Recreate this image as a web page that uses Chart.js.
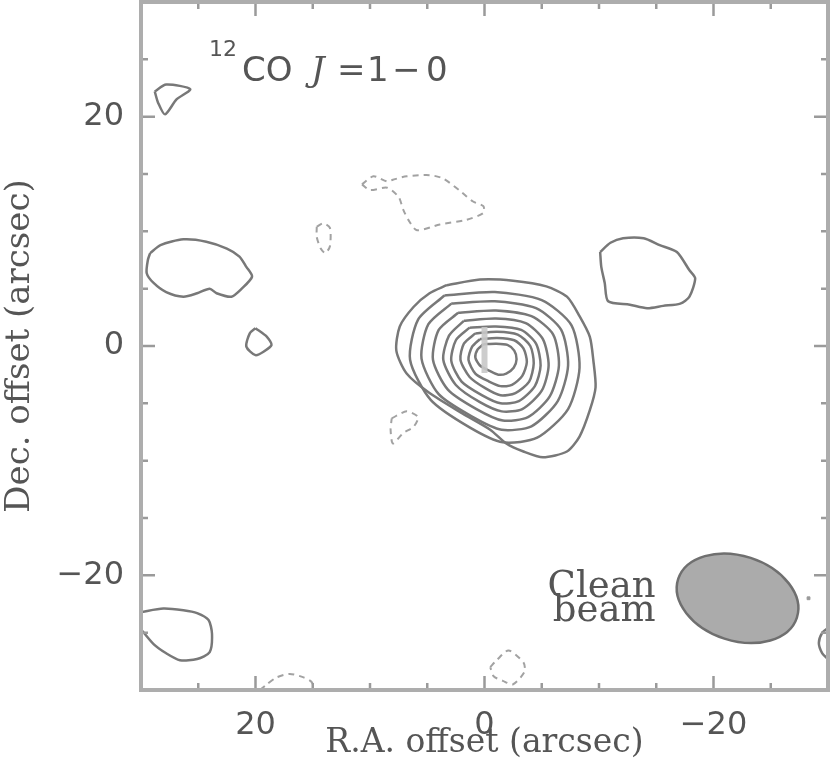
<!DOCTYPE html>
<html lang="en">
  <head>
    <meta charset="UTF-8" />
    <title>12CO J=1-0 map</title>
    <script src="https://cdn.jsdelivr.net/npm/chart.js"></script>
    <style>
      html, body { margin: 0; padding: 0; background: #fff; overflow: hidden; }
      #wrap { width: 830px; height: 777px; }
    </style>
  </head>
  <body>
    <div id="wrap"><canvas id="coMap"></canvas></div>

    <script>
      // tick values (arcsec)
      const labelTicks = [20, 0, -20];
      const minorTicks = [-25, -15, -10, -5, 5, 10, 15, 25];

      // positive contours around the source, [RA offset, Dec offset]
      const c1 = [[3.3,5.3],[0.4,5.8],[-2.5,5.7],[-5.4,5.2],[-7.2,4.3],[-8.3,2.6],[-9.2,0.8],[-9.5,-1.2],[-9.7,-3.6],[-9.2,-5.6],[-8.3,-7.9],[-7.2,-9.2],[-5.1,-9.7],[-3.4,-9.2],[-1.9,-8.5],[-0.5,-7.3],[1.9,-5.9],[4.8,-4.1],[6.8,-2.4],[7.7,-0.4],[7.4,1.7],[6.2,3.4],[4.8,4.6]];
      const c2 = [[3.5,4.4],[-0.9,4.7],[-5.0,4.0],[-7.6,1.8],[-8.3,-1.9],[-7.3,-5.5],[-4.6,-8.0],[-1.6,-8.4],[1.3,-7.1],[4.7,-4.7],[6.5,-1.2],[5.8,2.3]];
      const c3 = [[2.9,3.7],[-0.9,3.9],[-4.5,3.3],[-6.7,1.4],[-7.3,-1.7],[-6.4,-4.8],[-4.1,-7.0],[-1.5,-7.3],[1.0,-6.2],[4.0,-4.2],[5.5,-1.1],[4.9,1.9]];
      const c4 = [[2.3,2.9],[-1.0,3.1],[-4.1,2.6],[-6.0,1.0],[-6.5,-1.7],[-5.7,-4.4],[-3.8,-6.2],[-1.6,-6.5],[0.7,-5.5],[3.2,-3.8],[4.5,-1.2],[4.0,1.4]];
      const c5 = [[1.8,2.2],[-1.0,2.4],[-3.6,2.0],[-5.1,0.6],[-5.6,-1.7],[-5.0,-3.9],[-3.3,-5.5],[-1.5,-5.7],[0.4,-4.9],[2.5,-3.4],[3.6,-1.2],[3.1,0.9]];
      const c6 = [[1.3,1.6],[-1.0,1.7],[-3.2,1.4],[-4.5,0.2],[-4.9,-1.7],[-4.4,-3.5],[-3.0,-4.8],[-1.4,-5.0],[0.2,-4.3],[2.0,-3.1],[2.9,-1.3],[2.5,0.5]];
      const c7 = [[0.8,1.1],[-1.1,1.25],[-2.9,1.0],[-4.0,0.0],[-4.3,-1.5],[-3.9,-3.1],[-2.7,-4.1],[-1.4,-4.3],[-0.1,-3.7],[1.3,-2.7],[2.1,-1.2],[1.8,0.2]];
      const c8 = [[0.4,0.6],[-1.1,0.7],[-2.6,0.5],[-3.4,-0.2],[-3.7,-1.4],[-3.3,-2.6],[-2.4,-3.4],[-1.4,-3.5],[-0.4,-3.1],[0.8,-2.4],[1.4,-1.2],[1.1,-0.1]];
      const c9 = [[0.1,0.15],[-1.0,0.2],[-2.0,0.1],[-2.6,-0.4],[-2.8,-1.15],[-2.55,-1.9],[-1.9,-2.4],[-1.2,-2.5],[-0.5,-2.2],[0.4,-1.7],[0.8,-1.0],[0.6,-0.3]];

      // other positive contours
      const westBlob = [[29.2,8.1],[28.3,8.8],[26.3,9.3],[24.3,9.1],[22.5,8.5],[21.4,7.8],[20.8,6.9],[20.3,6.05],[21.2,5.0],[22.1,4.3],[23.4,4.6],[24.0,5.0],[25.1,4.6],[26.3,4.3],[27.8,4.7],[28.9,5.5],[29.5,6.35],[29.4,7.5]];
      const westSpot = [[20.0,1.55],[19.0,0.8],[18.6,0.1],[19.3,-0.5],[20.0,-0.8],[20.8,-0.05],[20.5,1.1]];
      const eastBlob = [[-10.1,8.2],[-11.0,9.0],[-12.1,9.4],[-13.9,9.4],[-15.3,8.8],[-16.8,8.2],[-17.9,6.6],[-18.4,5.9],[-17.9,4.3],[-17.1,3.7],[-15.6,3.5],[-14.2,3.3],[-12.7,3.6],[-10.8,3.9],[-10.5,5.5],[-10.2,6.9]];
      const nwSpot = [[28.8,22.2],[27.8,22.8],[25.7,22.4],[26.9,21.5],[27.9,20.2],[28.5,21.2]];
      const swEdge = [[30,-23.2],[28.05,-22.9],[26.3,-23.05],[25.1,-23.3],[24.1,-23.9],[23.8,-25.1],[24.0,-26.7],[25.1,-27.3],[26.6,-27.4],[27.8,-26.8],[28.9,-26.0],[30,-24.7]];
      const seEdge = [[-30,-24.6],[-29.5,-25.0],[-29.2,-25.9],[-29.5,-26.8],[-30,-27.3]];

      // negative contours (dashed)
      const negNorth = [[10.7,14.1],[9.7,14.8],[8.5,14.35],[8.0,14.5],[6.8,14.8],[4.8,14.9],[3.6,14.6],[2.1,13.5],[1.0,12.6],[0.1,12.2],[0.1,11.6],[1.6,11.0],[3.9,10.6],[5.9,10.1],[6.65,11.0],[7.1,11.9],[7.5,13.0],[8.5,13.8],[10.0,13.6]];
      const negSmall = [[14.65,10.4],[14.1,10.7],[13.5,10.3],[13.5,8.7],[13.9,8.1],[14.3,8.5],[14.65,9.5]];
      const negSouth = [[8.1,-6.3],[6.8,-5.7],[5.8,-6.2],[6.2,-7.05],[7.1,-7.6],[8.0,-8.5],[8.2,-7.3]];
      const negBottom = [[19.6,-30],[19.0,-29.5],[18.15,-28.9],[17.0,-28.6],[15.8,-28.9],[15.1,-29.3],[14.8,-30]];
      const negDiamond = [[-0.5,-28.0],[-1.07,-27.4],[-2.1,-26.55],[-3.4,-27.6],[-3.5,-28.4],[-2.5,-29.5],[-1.6,-29.2],[-0.8,-28.8]];

      // markers
      const centreMark = [[0, -0.35]];
      const strayDot = [[-28.3, -22.0]];

      // clean beam: centre, FWHM axes (arcsec), position angle (deg)
      const beamCentre = [-22.1, -22.0];
      const beamMajor = 10.9;
      const beamMinor = 7.4;
      const beamPA = 72;

      const solidCol = "#787878";
      const dashCol = "#a2a2a2";
      const textCol = "#555555";

      function contour(pts, closed, neg) {
        return {
          data: closed ? pts.concat([pts[0]]) : pts,
          showLine: true,
          borderColor: neg ? dashCol : solidCol,
          borderWidth: neg ? 2 : 2.5,
          borderDash: neg ? [6, 5] : [],
          pointRadius: 0,
          tension: 0.25,
          order: 1,
        };
      }

      const minus = (v) => String(v).replace("-", "\u2212");

      // inward tick marks, tick labels and the box round the map
      const framePlugin = {
        id: "frame",
        afterDatasetsDraw(chart) {
          const { ctx, chartArea: a, scales } = chart;
          const x = scales.x, y = scales.y;
          ctx.save();
          ctx.strokeStyle = "#9a9a9a";
          ctx.lineWidth = 2.5;
          const ticks = labelTicks.map((v) => [v, 14]).concat(minorTicks.map((v) => [v, 7]));
          ctx.beginPath();
          ticks.forEach(([v, len]) => {
            const px = x.getPixelForValue(v);
            ctx.moveTo(px, a.bottom); ctx.lineTo(px, a.bottom - len);
            ctx.moveTo(px, a.top); ctx.lineTo(px, a.top + len);
            const py = y.getPixelForValue(v);
            ctx.moveTo(a.left, py); ctx.lineTo(a.left + len, py);
            ctx.moveTo(a.right, py); ctx.lineTo(a.right - len, py);
          });
          ctx.stroke();
          ctx.strokeStyle = "#adadad";
          ctx.lineWidth = 4;
          ctx.strokeRect(a.left, a.top, a.right - a.left, a.bottom - a.top);

          ctx.fillStyle = textCol;
          ctx.font = "32px 'DejaVu Sans'";
          labelTicks.forEach((v) => {
            ctx.textAlign = "center";
            ctx.textBaseline = "top";
            ctx.fillText(minus(v), x.getPixelForValue(v), a.bottom + 20);
            ctx.textAlign = "right";
            ctx.textBaseline = "middle";
            ctx.fillText(minus(v), a.left - 17, y.getPixelForValue(v));
          });
          ctx.restore();
        },
      };

      // clean beam ellipse and its label
      const beamPlugin = {
        id: "beam",
        afterDatasetsDraw(chart) {
          const { ctx, scales } = chart;
          const x = scales.x, y = scales.y;
          const cx = x.getPixelForValue(beamCentre[0]);
          const cy = y.getPixelForValue(beamCentre[1]);
          const rx = Math.abs(x.getPixelForValue(beamCentre[0] + beamMajor / 2) - cx);
          const ry = Math.abs(y.getPixelForValue(beamCentre[1] + beamMinor / 2) - cy);
          ctx.save();
          ctx.beginPath();
          ctx.ellipse(cx, cy, rx, ry, ((90 - beamPA) * Math.PI) / 180, 0, 2 * Math.PI);
          ctx.fillStyle = "#ababab";
          ctx.fill();
          ctx.strokeStyle = "#6f6f6f";
          ctx.lineWidth = 2.5;
          ctx.stroke();
          ctx.fillStyle = textCol;
          ctx.font = "37px 'DejaVu Serif'";
          ctx.textAlign = "right";
          ctx.textBaseline = "alphabetic";
          ctx.fillText("Clean", cx - 82, cy - 1);
          ctx.fillText("beam", cx - 82, cy + 23);
          ctx.restore();
        },
      };

      // line label in the upper left corner
      const titlePlugin = {
        id: "lineTitle",
        afterDraw(chart) {
          const { ctx, chartArea: a } = chart;
          const l = a.left, t = a.top;
          ctx.save();
          ctx.fillStyle = textCol;
          ctx.textBaseline = "alphabetic";
          ctx.font = "22px 'DejaVu Sans'";
          ctx.fillText("12", l + 68, t + 54);
          ctx.font = "34px 'DejaVu Sans'";
          ctx.fillText("CO", l + 101, t + 79);
          ctx.font = "italic 34px 'DejaVu Serif'";
          ctx.fillText("J", l + 170, t + 79);
          ctx.font = "34px 'DejaVu Sans'";
          ctx.fillText("=", l + 196, t + 79);
          ctx.fillText("1", l + 226, t + 79);
          ctx.fillText("\u2212", l + 251, t + 79);
          ctx.fillText("0", l + 285, t + 79);
          ctx.restore();
        },
      };

      const titleFont = { family: "'DejaVu Serif'", size: 33 };

      new Chart(document.getElementById("coMap"), {
        type: "scatter",
        data: {
          datasets: [
            { data: centreMark, pointStyle: "line", rotation: 90, pointRadius: 23, borderColor: "rgba(200,200,200,0.9)", borderWidth: 6, order: 0 },
            { data: strayDot, pointStyle: "rect", pointRadius: 2, backgroundColor: "#999", borderColor: "#999", order: 1 },
            contour(c1, true), contour(c2, true), contour(c3, true),
            contour(c4, true), contour(c5, true), contour(c6, true),
            contour(c7, true), contour(c8, true), contour(c9, true),
            contour(westBlob, true), contour(westSpot, true),
            contour(eastBlob, true), contour(nwSpot, true),
            contour(swEdge, false), contour(seEdge, false),
            contour(negNorth, true, true), contour(negSmall, true, true),
            contour(negSouth, true, true), contour(negBottom, false, true),
            contour(negDiamond, true, true),
          ],
        },
        options: {
          responsive: true,
          maintainAspectRatio: false,
          animation: false,
          layout: { autoPadding: false, padding: { top: 2, right: 2, left: 0, bottom: 0 } },
          plugins: { legend: { display: false }, tooltip: { enabled: false } },
          scales: {
            x: {
              type: "linear",
              reverse: true,
              min: -30,
              max: 30,
              grid: { display: false, drawTicks: false },
              border: { display: false },
              ticks: { display: false },
              afterFit: (s) => { s.height = 87; },
              title: { display: true, text: "R.A. offset (arcsec)", color: textCol, font: titleFont, padding: { top: 0, bottom: 14 } },
            },
            y: {
              type: "linear",
              min: -30,
              max: 30,
              grid: { display: false, drawTicks: false },
              border: { display: false },
              ticks: { display: false },
              afterFit: (s) => { s.width = 141; },
              title: { display: true, text: "Dec. offset (arcsec)", color: textCol, font: { family: "'DejaVu Serif'", size: 34 }, padding: { top: 0, bottom: 0 } },
            },
          },
        },
        plugins: [framePlugin, beamPlugin, titlePlugin],
      });
    </script>
  </body>
</html>
